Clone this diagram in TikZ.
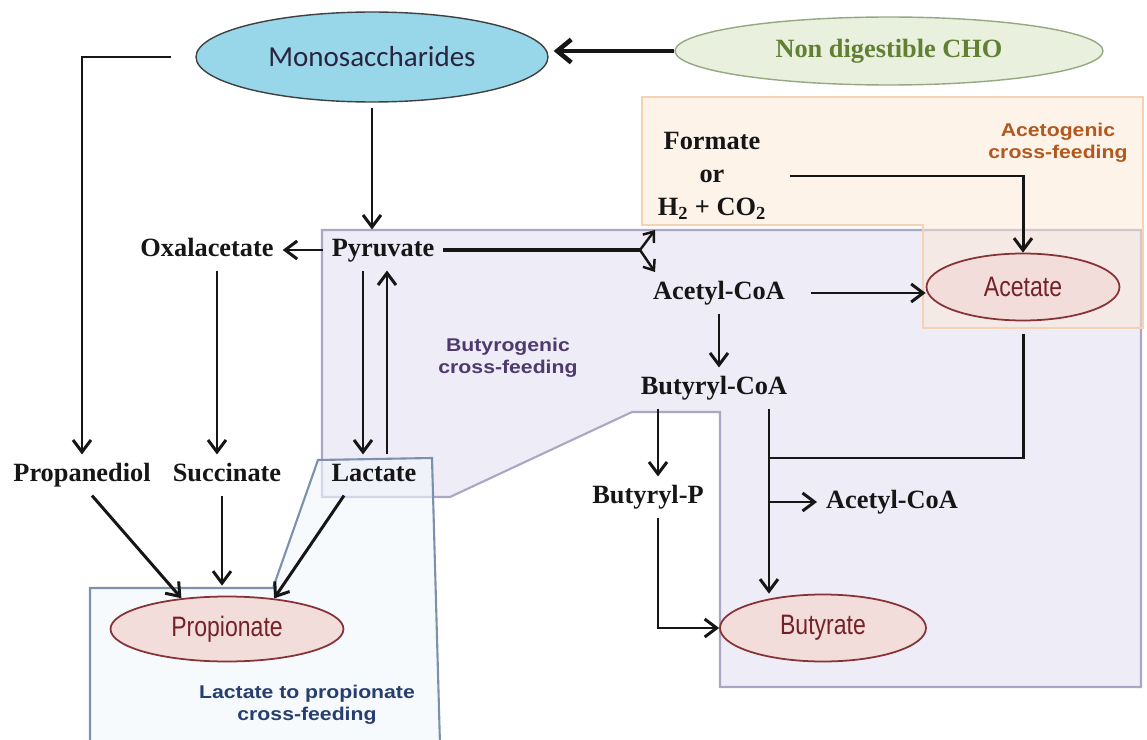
\documentclass[tikz,border=0pt]{standalone}
\usepackage{fontspec}
\setmainfont{Liberation Serif}
\newfontfamily\carfont{Carlito}
\newfontfamily\narrowsans[FakeStretch=0.82]{Liberation Sans}
\newfontfamily\widesans[FakeStretch=1.15]{Liberation Sans}
\usetikzlibrary{shapes.geometric, arrows.meta}
\definecolor{purplefill}{RGB}{238,236,247}
\definecolor{purpleedge}{RGB}{170,166,196}
\definecolor{bluefill}{RGB}{240,246,251}
\definecolor{blueedge}{RGB}{125,145,172}
\definecolor{peachfill}{RGB}{251,232,212}
\definecolor{peachedge}{RGB}{246,210,180}
\definecolor{monofill}{RGB}{152,214,234}
\definecolor{monotext}{RGB}{42,36,62}
\definecolor{nondigfill}{RGB}{233,240,222}
\definecolor{nondigedge}{RGB}{150,168,130}
\definecolor{nondigtext}{RGB}{98,128,52}
\definecolor{prodfill}{RGB}{243,221,219}
\definecolor{prodedge}{RGB}{135,50,55}
\definecolor{prodtext}{RGB}{115,35,40}
\definecolor{acetolbl}{RGB}{178,88,30}
\definecolor{butylbl}{RGB}{78,58,110}
\definecolor{lactlbl}{RGB}{38,62,112}
\definecolor{metblack}{RGB}{22,22,22}
\tikzset{
    metbase/.style={font=\fontsize{15}{18.7}\selectfont\bfseries, text=metblack, inner sep=5pt},
    met/.style={metbase, text height=10pt, text depth=3pt},
    product/.style={ellipse, draw=prodedge, fill=prodfill, text=prodtext, line width=1pt, inner sep=0pt, font=\narrowsans\fontsize{16}{18}\selectfont},
    crosslbl/.style={font=\widesans\bfseries\fontsize{10.5}{12.5}\selectfont, align=center},
    arrow/.style={-{Straight Barb[length=2.4mm,width=3.6mm]}, line width=1.7pt, metblack},
    smallarrow/.style={-{Straight Barb[length=1.8mm,width=2.8mm]}, line width=1.4pt, metblack},
    bigarrow/.style={-{Straight Barb[length=2.8mm,width=4.6mm]}, line width=2.6pt, metblack},
    link/.style={line width=1.7pt, metblack}
}
\begin{document}
\begin{tikzpicture}[x=0.02cm, y=-0.02cm]
    \useasboundingbox (0,0) rectangle (1147,740);
    % cross-feeding regions
    \draw [purpleedge, fill=purplefill, line width=1.2pt] (322,230) -- (1141,230) -- (1141,687) -- (720,687) -- (720,412) -- (632,412) -- (450,497) -- (322,497) -- cycle;
    \draw [peachedge, fill=peachfill, fill opacity=0.5, line width=1.2pt] (642,97) -- (1143,97) -- (1143,328) -- (923,328) -- (923,225) -- (642,225) -- cycle;
    \draw [blueedge, fill=bluefill, fill opacity=0.6, line width=1.2pt] (90,588) -- (273,588) -- (318,460) -- (432,458) -- (440,745) -- (90,745) -- cycle;

    \node (acetolbl) [crosslbl, text=acetolbl] at (1058,143) {Acetogenic\\cross-feeding};
    \node (butylbl) [crosslbl, text=butylbl] at (508,358) {Butyrogenic\\cross-feeding};
    \node (lactlbl) [crosslbl, text=lactlbl] at (307,705) {Lactate to propionate\\cross-feeding};

    % sources
    \node (mono) [ellipse, draw=black!75, fill=monofill, text=monotext, line width=0.8pt, minimum width=7.04cm, minimum height=1.8cm, inner sep=0pt, font=\carfont\fontsize{16.5}{19}\selectfont] at (372,57) {Monosaccharides};
    \node (nondig) [ellipse, draw=nondigedge, fill=nondigfill, text=nondigtext, line width=0.8pt, minimum width=8.56cm, minimum height=1.36cm, inner sep=0pt, font=\fontsize{15}{18}\selectfont\bfseries] at (889,51) {Non digestible CHO};

    % metabolites
    \node (pyr) [met] at (383,250) {Pyruvate};
    \node (oxa) [met] at (207,250) {Oxalacetate};
    \node (prop) [met] at (82,475) {Propanediol};
    \node (succ) [met] at (227,475) {Succinate};
    \node (lact) [met] at (374,475) {Lactate};
    \node (formate) [metbase, align=center] at (712,176) {Formate\\or\\H\textsubscript{2} + CO\textsubscript{2}};
    \node (acoa) [met] at (719,293) {Acetyl-CoA};
    \node (bcoa) [met] at (714,388) {Butyryl-CoA};
    \node (bp) [met] at (648,497) {Butyryl-P};
    \node (acoa2) [met] at (892,502) {Acetyl-CoA};

    % end products
    \node (acet) [product, minimum width=3.86cm, minimum height=1.34cm] at (1023,287) {Acetate};
    \node (buty) [product, minimum width=4.12cm, minimum height=1.34cm] at (823,628) {Butyrate};
    \node (propi) [product, minimum width=4.66cm, minimum height=1.3cm] at (227,629) {Propionate};

    \coordinate (lactdn) at ([xshift=-0.22cm]lact.north);
    \coordinate (lactup) at ([xshift=0.26cm]lact.north);
    \coordinate (oxax) at ([xshift=0.2cm]oxa.south);
    \coordinate (succx) at ([xshift=-0.1cm]succ.south);
    \coordinate (bpx) at ([xshift=0.2cm]bp.north);
    \coordinate (bcoax) at ([xshift=1.1cm]bcoa.south);
    \coordinate (fork) at (640,250);
    \coordinate (forkup) at (655,230);
    \coordinate (forkdn) at (655,272);
    \coordinate (join) at (769,458);

    \draw [bigarrow, shorten >=0.1cm] (nondig.west) -- (nondig.west -| mono.east);
    \draw [arrow, shorten <=0.48cm] (mono.west) -| (prop.north);
    \draw [arrow, shorten <=0.1cm] (mono.south) -- (mono.south |- pyr.north);
    \draw [arrow] (pyr.west) -- (oxa.east);
    \draw [arrow] (oxax) -- (oxax |- succ.north);
    \draw [arrow] (lactdn |- pyr.south) -- (lactdn);
    \draw [arrow] (lactup) -- (lactup |- pyr.south);
    \draw [link, line width=2.4pt] (pyr.east) -- (fork);
    \draw [smallarrow] (fork) -- (forkup);
    \draw [smallarrow] (fork) -- (forkdn);
    \draw [arrow, shorten <=0.3cm] (formate.east) -| (acet.north);
    \draw [arrow, shorten <=0.35cm] (acoa.east) -- (acoa.east -| acet.west);
    \draw [arrow] (acoa.south) -- (acoa.south |- bcoa.north);
    \draw [arrow] (bpx |- bcoa.south) -- (bpx);
    \draw [arrow] (bcoax) -- (bcoax |- buty.north);
    \draw [arrow] (bcoax |- acoa2.west) -- (acoa2.west);
    \draw [link, shorten <=0.26cm] (acet.south) |- (join);
    \draw [arrow] ([xshift=0.2cm]bp.south) |- (buty.west);

    \draw [arrow] ([xshift=0.2cm]prop.south) -- (propi.146);
    \draw [arrow, shorten >=0.2cm] (succx) -- (succx |- propi.north);
    \draw [arrow] ([xshift=-0.6cm]lact.south) -- (propi.33);
\end{tikzpicture}
\end{document}
